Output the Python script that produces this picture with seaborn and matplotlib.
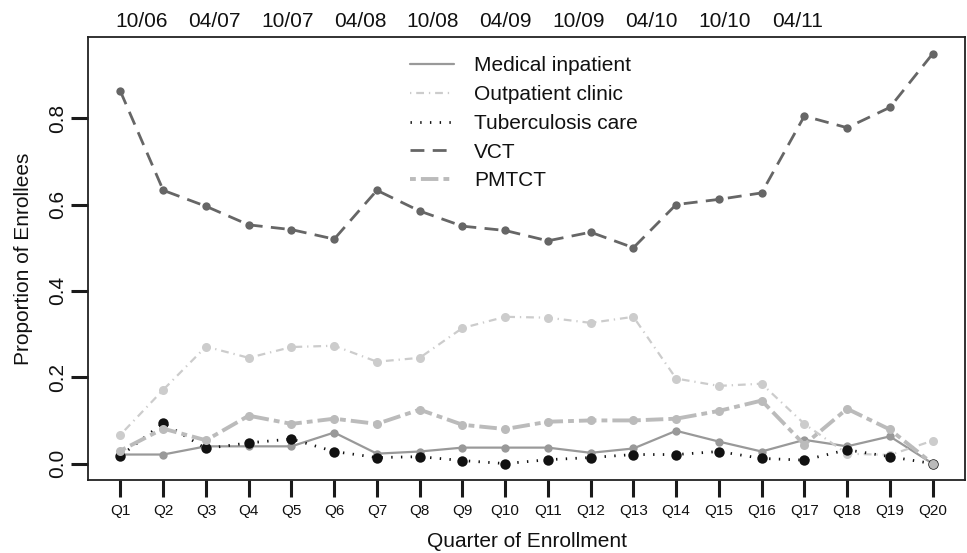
# Enrollment proportions by quarter, one line per entry point
import numpy as np
import pandas as pd
import matplotlib
matplotlib.use('Agg')
import matplotlib.pyplot as plt
from matplotlib.lines import Line2D
import seaborn as sns

# Data
quarters = ['Q1', 'Q2', 'Q3', 'Q4', 'Q5', 'Q6', 'Q7', 'Q8', 'Q9', 'Q10',
            'Q11', 'Q12', 'Q13', 'Q14', 'Q15', 'Q16', 'Q17', 'Q18', 'Q19', 'Q20']
date_labels = ['10/06', '04/07', '10/07', '04/08', '10/08',
               '04/09', '10/09', '04/10', '10/10', '04/11']

medical = [0.021, 0.021, 0.040, 0.040, 0.040, 0.072, 0.023, 0.028, 0.037, 0.037,
           0.037, 0.025, 0.035, 0.076, 0.051, 0.028, 0.055, 0.040, 0.063, 0.000]
outpatient = [0.067, 0.171, 0.271, 0.245, 0.270, 0.273, 0.236, 0.245, 0.314, 0.340,
              0.338, 0.326, 0.340, 0.197, 0.180, 0.185, 0.092, 0.023, 0.020, 0.053]
tb = [0.018, 0.094, 0.035, 0.048, 0.057, 0.028, 0.014, 0.016, 0.007, 0.000,
      0.009, 0.014, 0.021, 0.021, 0.028, 0.012, 0.008, 0.032, 0.016, 0.000]
vct = [0.862, 0.633, 0.596, 0.553, 0.542, 0.520, 0.633, 0.585, 0.550, 0.540,
       0.516, 0.536, 0.500, 0.600, 0.612, 0.627, 0.805, 0.778, 0.825, 0.949]
pmtct = [0.030, 0.081, 0.054, 0.111, 0.092, 0.104, 0.092, 0.125, 0.090, 0.080,
         0.097, 0.100, 0.100, 0.104, 0.122, 0.146, 0.044, 0.127, 0.079, 0.000]

series_names = ['Medical inpatient', 'Outpatient clinic', 'Tuberculosis care', 'VCT', 'PMTCT']
series_values = [medical, outpatient, tb, vct, pmtct]

# Styles (colour, dash pattern, line width, marker size)
styles = {
    'Medical inpatient': dict(color='#999999', ls='-', lw=1.6, ms=6.0),
    'Outpatient clinic': dict(color='#cccccc', ls=(0, (0.6, 2.2, 3.5, 2.2)), lw=1.6, ms=6.5),
    'Tuberculosis care': dict(color='#111111', ls=(0, (0.5, 3.0)), lw=2.0, ms=7.5),
    'VCT': dict(color='#666666', ls=(0, (5.0, 3.0)), lw=2.0, ms=6.0),
    'PMTCT': dict(color='#bbbbbb', ls=(0, (1.5, 1.3, 4.5, 1.3)), lw=2.8, ms=6.5),
}

x = np.arange(1, len(quarters) + 1)
df = pd.DataFrame({'x': np.tile(x, len(series_names)),
                   'value': np.concatenate(series_values),
                   'series': np.repeat(series_names, len(quarters))})

sns.set_style('ticks')
plt.rcParams['font.family'] = ['Liberation Sans', 'DejaVu Sans']
plt.rcParams['text.color'] = '#111111'
plt.rcParams['axes.labelcolor'] = '#111111'

fig = plt.figure(figsize=(9.67, 5.53), dpi=100)
ax = fig.add_axes([0.091, 0.132, 0.907, 0.801])

for name in series_names:
    st = styles[name]
    sub = df[df['series'] == name]
    sns.lineplot(data=sub, x='x', y='value', ax=ax, color=st['color'],
                 linestyle=st['ls'], linewidth=st['lw'], marker='o',
                 markersize=st['ms'], markeredgewidth=0, legend=False)

ax.set_xlim(0.24, 20.76)
ax.set_ylim(-0.038, 0.988)

ax.set_xticks(x)
ax.set_xticklabels(quarters, fontsize=11)
ax.set_yticks([0.0, 0.2, 0.4, 0.6, 0.8])
ax.set_yticklabels(['0.0', '0.2', '0.4', '0.6', '0.8'], fontsize=15,
                   rotation=90, va='center')
ax.tick_params(axis='both', which='major', direction='out', length=12, width=2.2,
               color='#1a1a1a', labelcolor='#111111', left=True, bottom=True,
               top=False, right=False)
ax.tick_params(axis='x', pad=5)
ax.tick_params(axis='y', pad=3)

for sp in ax.spines.values():
    sp.set_visible(True)
    sp.set_color('#222222')
    sp.set_linewidth(1.3)

ax.set_xlabel('Quarter of Enrollment', fontsize=15, labelpad=10)
ax.set_ylabel('Proportion of Enrollees', fontsize=15, labelpad=11)

# Date labels along the top
top = ax.secondary_xaxis('top')
top.set_xticks(np.linspace(1.5, 16.83, len(date_labels)))
top.set_xticklabels(date_labels, fontsize=15)
top.tick_params(length=0, pad=4, labelcolor='#111111')
top.spines['top'].set_visible(False)

handles = [Line2D([], [], color=styles[n]['color'], linestyle=styles[n]['ls'],
                  linewidth=styles[n]['lw']) for n in series_names]
ax.legend(handles, series_names, loc='upper left', bbox_to_anchor=(0.355, 0.98),
          frameon=False, fontsize=15, handlelength=2.1, handletextpad=1.0,
          labelspacing=0.47, borderpad=0)

plt.savefig('out.png', dpi=100)
